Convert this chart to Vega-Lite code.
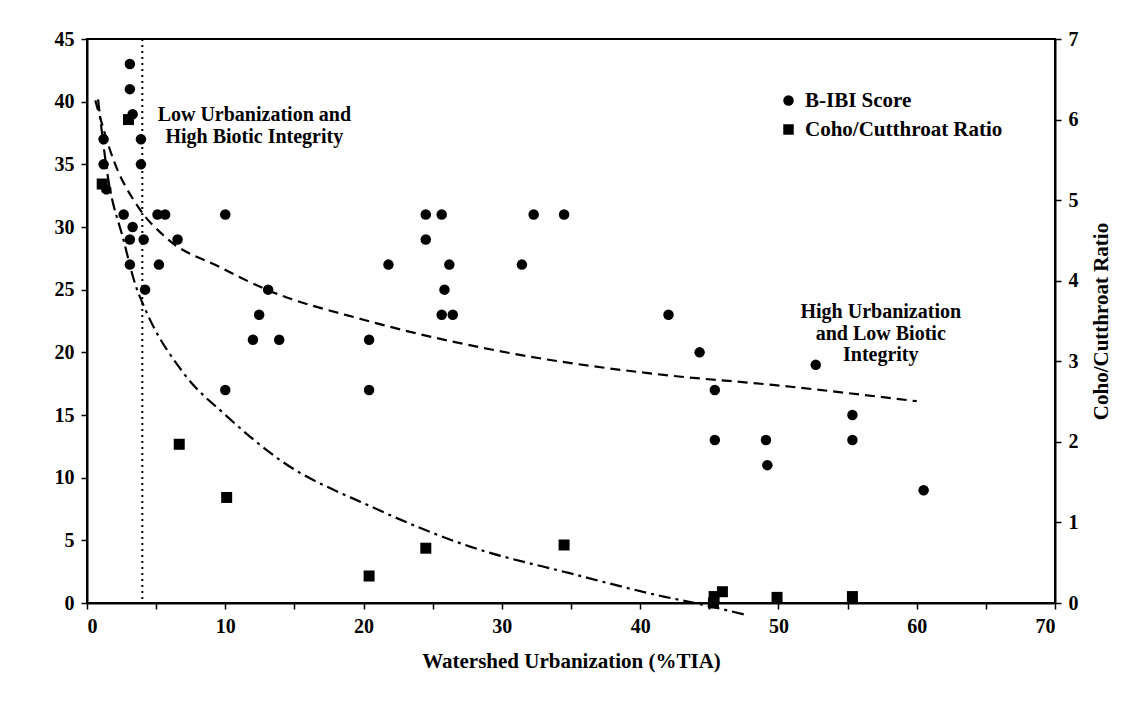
{
  "$schema": "https://vega.github.io/schema/vega-lite/v6.json",
  "width": 968,
  "height": 564,
  "autosize": {"type": "none"},
  "padding": {"left": 87, "top": 39, "right": 89, "bottom": 106},
  "background": "white",
  "config": {
    "font": "Liberation Serif",
    "view": {"stroke": "black", "strokeWidth": 2},
    "axis": {
      "grid": false,
      "domainColor": "black",
      "domainWidth": 2,
      "tickColor": "black",
      "tickWidth": 1.5,
      "tickSize": 6,
      "labelFont": "Liberation Serif",
      "labelFontWeight": "bold",
      "labelFontSize": 20,
      "labelColor": "black",
      "labelPadding": 7,
      "titleFont": "Liberation Serif",
      "titleFontWeight": "bold",
      "titleFontSize": 21,
      "titleColor": "black"
    },
    "legend": {
      "labelFont": "Liberation Serif",
      "labelFontWeight": "bold",
      "labelFontSize": 21,
      "labelColor": "black",
      "labelLimit": 0,
      "symbolSize": 110,
      "symbolFillColor": "black",
      "symbolStrokeColor": "black",
      "symbolStrokeWidth": 0,
      "rowPadding": 7,
      "padding": 0,
      "labelOffset": 6
    }
  },
  "datasets": {
    "bibi": [
      {"tia": 3.1, "score": 43, "series": "B-IBI Score"},
      {"tia": 3.1, "score": 41, "series": "B-IBI Score"},
      {"tia": 3.3, "score": 39, "series": "B-IBI Score"},
      {"tia": 1.2, "score": 37, "series": "B-IBI Score"},
      {"tia": 3.9, "score": 37, "series": "B-IBI Score"},
      {"tia": 1.2, "score": 35, "series": "B-IBI Score"},
      {"tia": 3.9, "score": 35, "series": "B-IBI Score"},
      {"tia": 1.4, "score": 33, "series": "B-IBI Score"},
      {"tia": 2.65, "score": 31, "series": "B-IBI Score"},
      {"tia": 5.1, "score": 31, "series": "B-IBI Score"},
      {"tia": 5.65, "score": 31, "series": "B-IBI Score"},
      {"tia": 10.0, "score": 31, "series": "B-IBI Score"},
      {"tia": 3.3, "score": 30, "series": "B-IBI Score"},
      {"tia": 3.1, "score": 29, "series": "B-IBI Score"},
      {"tia": 4.1, "score": 29, "series": "B-IBI Score"},
      {"tia": 6.55, "score": 29, "series": "B-IBI Score"},
      {"tia": 3.1, "score": 27, "series": "B-IBI Score"},
      {"tia": 5.2, "score": 27, "series": "B-IBI Score"},
      {"tia": 4.2, "score": 25, "series": "B-IBI Score"},
      {"tia": 13.1, "score": 25, "series": "B-IBI Score"},
      {"tia": 12.45, "score": 23, "series": "B-IBI Score"},
      {"tia": 12.0, "score": 21, "series": "B-IBI Score"},
      {"tia": 13.9, "score": 21, "series": "B-IBI Score"},
      {"tia": 20.4, "score": 21, "series": "B-IBI Score"},
      {"tia": 10.0, "score": 17, "series": "B-IBI Score"},
      {"tia": 20.4, "score": 17, "series": "B-IBI Score"},
      {"tia": 24.5, "score": 31, "series": "B-IBI Score"},
      {"tia": 25.65, "score": 31, "series": "B-IBI Score"},
      {"tia": 32.3, "score": 31, "series": "B-IBI Score"},
      {"tia": 34.5, "score": 31, "series": "B-IBI Score"},
      {"tia": 24.5, "score": 29, "series": "B-IBI Score"},
      {"tia": 21.8, "score": 27, "series": "B-IBI Score"},
      {"tia": 26.2, "score": 27, "series": "B-IBI Score"},
      {"tia": 31.45, "score": 27, "series": "B-IBI Score"},
      {"tia": 25.85, "score": 25, "series": "B-IBI Score"},
      {"tia": 25.65, "score": 23, "series": "B-IBI Score"},
      {"tia": 26.45, "score": 23, "series": "B-IBI Score"},
      {"tia": 42.05, "score": 23, "series": "B-IBI Score"},
      {"tia": 44.3, "score": 20, "series": "B-IBI Score"},
      {"tia": 52.7, "score": 19, "series": "B-IBI Score"},
      {"tia": 45.4, "score": 17, "series": "B-IBI Score"},
      {"tia": 55.35, "score": 15, "series": "B-IBI Score"},
      {"tia": 45.4, "score": 13, "series": "B-IBI Score"},
      {"tia": 49.1, "score": 13, "series": "B-IBI Score"},
      {"tia": 55.35, "score": 13, "series": "B-IBI Score"},
      {"tia": 49.2, "score": 11, "series": "B-IBI Score"},
      {"tia": 60.5, "score": 9, "series": "B-IBI Score"}
    ],
    "coho": [
      {"tia": 3.0, "ratio": 6.0, "series": "Coho/Cutthroat Ratio"},
      {"tia": 1.1, "ratio": 5.2, "series": "Coho/Cutthroat Ratio"},
      {"tia": 6.67, "ratio": 1.97, "series": "Coho/Cutthroat Ratio"},
      {"tia": 10.1, "ratio": 1.31, "series": "Coho/Cutthroat Ratio"},
      {"tia": 20.4, "ratio": 0.335, "series": "Coho/Cutthroat Ratio"},
      {"tia": 24.5, "ratio": 0.68, "series": "Coho/Cutthroat Ratio"},
      {"tia": 34.5, "ratio": 0.72, "series": "Coho/Cutthroat Ratio"},
      {"tia": 45.95, "ratio": 0.14, "series": "Coho/Cutthroat Ratio"},
      {"tia": 45.35, "ratio": 0.08, "series": "Coho/Cutthroat Ratio"},
      {"tia": 45.3, "ratio": 0.0, "series": "Coho/Cutthroat Ratio"},
      {"tia": 49.9, "ratio": 0.07, "series": "Coho/Cutthroat Ratio"},
      {"tia": 55.35, "ratio": 0.08, "series": "Coho/Cutthroat Ratio"}
    ],
    "bibiFit": [
      {"tia": 0.6, "score": 40.1},
      {"tia": 1.9, "score": 35.4},
      {"tia": 3.7, "score": 31.6},
      {"tia": 5.66, "score": 29.2},
      {"tia": 9.6, "score": 26.8},
      {"tia": 13.0, "score": 25.0},
      {"tia": 20.0, "score": 22.6},
      {"tia": 31.3, "score": 19.8},
      {"tia": 41.7, "score": 18.2},
      {"tia": 49.6, "score": 17.4},
      {"tia": 60.0, "score": 16.1}
    ],
    "cohoFit": [
      {"tia": 0.8, "ratio": 6.25},
      {"tia": 1.5, "ratio": 5.3},
      {"tia": 2.65, "ratio": 4.5},
      {"tia": 3.5, "ratio": 3.95},
      {"tia": 4.2, "ratio": 3.65},
      {"tia": 7.0, "ratio": 2.85},
      {"tia": 10.1, "ratio": 2.32},
      {"tia": 14.0, "ratio": 1.77},
      {"tia": 20.5, "ratio": 1.2},
      {"tia": 27.7, "ratio": 0.7},
      {"tia": 34.9, "ratio": 0.37},
      {"tia": 41.7, "ratio": 0.08},
      {"tia": 44.5, "ratio": -0.02},
      {"tia": 47.7, "ratio": -0.15}
    ],
    "one": [{"k": 1}]
  },
  "layer": [
    {
      "layer": [
        {
          "data": {"name": "bibi"},
          "mark": {"type": "point", "filled": true, "color": "black", "opacity": 1, "size": 110},
          "encoding": {
            "x": {
              "field": "tia",
              "type": "quantitative",
              "scale": {"domain": [0, 70], "nice": false},
              "axis": {
                "title": "Watershed Urbanization (%TIA)",
                "values": [0, 5, 10, 15, 20, 25, 30, 35, 40, 45, 50, 55, 60, 65, 70],
                "labelExpr": "datum.value % 10 === 0 ? datum.label : ''",
                "titlePadding": 14
              }
            },
            "y": {
              "field": "score",
              "type": "quantitative",
              "scale": {"domain": [0, 45], "nice": false},
              "axis": {"title": null, "values": [0, 5, 10, 15, 20, 25, 30, 35, 40, 45]}
            },
            "shape": {
              "field": "series",
              "type": "nominal",
              "scale": {"domain": ["B-IBI Score", "Coho/Cutthroat Ratio"], "range": ["circle", "square"]},
              "legend": {"orient": "none", "legendX": 691, "legendY": 51, "title": null}
            }
          }
        },
        {
          "data": {"name": "bibiFit"},
          "mark": {"type": "line", "color": "black", "strokeWidth": 2.2, "strokeDash": [10, 6], "interpolate": "monotone", "clip": false},
          "encoding": {
            "x": {"field": "tia", "type": "quantitative"},
            "y": {"field": "score", "type": "quantitative"}
          }
        },
        {
          "data": {"name": "one"},
          "mark": {"type": "rule", "color": "black", "strokeWidth": 2, "strokeDash": [2, 4]},
          "encoding": {
            "x": {"datum": 4, "type": "quantitative"}
          }
        },
        {
          "data": {"name": "one"},
          "mark": {"type": "text", "font": "Liberation Serif", "fontWeight": "bold", "fontSize": 20, "color": "black", "align": "center", "baseline": "middle", "lineHeight": 21.5},
          "encoding": {
            "x": {"datum": 12.1, "type": "quantitative"},
            "y": {"datum": 38.9, "type": "quantitative"},
            "text": {"value": ["Low Urbanization and", "High Biotic Integrity"]}
          }
        },
        {
          "data": {"name": "one"},
          "mark": {"type": "text", "font": "Liberation Serif", "fontWeight": "bold", "fontSize": 20, "color": "black", "align": "center", "baseline": "middle", "lineHeight": 21.5},
          "encoding": {
            "x": {"datum": 57.4, "type": "quantitative"},
            "y": {"datum": 23.2, "type": "quantitative"},
            "text": {"value": ["High Urbanization", "and Low Biotic", "Integrity"]}
          }
        }
      ]
    },
    {
      "layer": [
        {
          "data": {"name": "coho"},
          "mark": {"type": "point", "filled": true, "color": "black", "opacity": 1, "size": 121},
          "encoding": {
            "x": {"field": "tia", "type": "quantitative", "scale": {"domain": [0, 70], "nice": false}},
            "y": {
              "field": "ratio",
              "type": "quantitative",
              "scale": {"domain": [0, 7], "nice": false},
              "axis": {"orient": "right", "title": "Coho/Cutthroat Ratio", "values": [0, 1, 2, 3, 4, 5, 6, 7], "format": "d", "titleAngle": 270, "titlePadding": 33}
            },
            "shape": {
              "field": "series",
              "type": "nominal",
              "scale": {"domain": ["B-IBI Score", "Coho/Cutthroat Ratio"], "range": ["circle", "square"]},
              "legend": {"orient": "none", "legendX": 691, "legendY": 51, "title": null}
            }
          }
        },
        {
          "data": {"name": "cohoFit"},
          "mark": {"type": "line", "color": "black", "strokeWidth": 2.2, "strokeDash": [12, 5, 3, 5], "interpolate": "monotone", "clip": false},
          "encoding": {
            "x": {"field": "tia", "type": "quantitative"},
            "y": {"field": "ratio", "type": "quantitative"}
          }
        }
      ]
    }
  ],
  "resolve": {"scale": {"y": "independent"}}
}
